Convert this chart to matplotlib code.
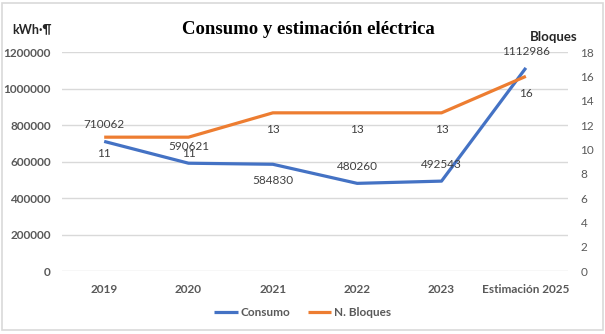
import numpy as np
import matplotlib
matplotlib.use("Agg")
import matplotlib.pyplot as plt
from matplotlib.patches import Rectangle
from matplotlib.ticker import StrMethodFormatter

years = ["2019", "2020", "2021", "2022", "2023", "Estimación 2025"]
consumo = [710062, 590621, 584830, 480260, 492543, 1112986]
bloques = [11, 11, 13, 13, 13, 16]
# label above (+1) or below (-1) the point
consumo_pos = [1, 1, -1, 1, 1, 1]

blue = "#4472C4"
orange = "#ED7D31"
tick_col = "#595959"
lab_col = "#404040"

plt.rcParams['font.family'] = ['Lato', 'DejaVu Sans']

fig = plt.figure(figsize=(6.05, 3.34), dpi=100)
fig.patches.append(Rectangle((0.004, 0.012), 0.992, 0.978, transform=fig.transFigure,
                             fill=False, edgecolor="#D9D9D9", linewidth=1.2))

ax = fig.add_axes([0.1025, 0.1886, 0.8364, 0.6557])
ax2 = ax.twinx()
x = np.arange(len(years))

ax.set_ylim(0, 1200000)
ax.set_yticks(np.arange(0, 1200001, 200000))
ax.yaxis.set_major_formatter(StrMethodFormatter("{x:.0f}"))
ax2.set_ylim(0, 18)
ax2.set_yticks(np.arange(0, 19, 2))
ax.set_xlim(-0.5, len(years) - 0.5)
ax.grid(axis="y", color="#D9D9D9", linewidth=1)
ax.set_axisbelow(True)
for a in (ax, ax2):
    for s in a.spines.values():
        s.set_visible(False)
    a.tick_params(length=0)

ax.set_xticks(x)
ax.set_xticklabels(years, fontsize=8.5, fontweight="bold", color=tick_col)
ax.tick_params(axis="x", pad=9)
ax.tick_params(axis="y", pad=8)
ax2.tick_params(axis="y", pad=9)
for t in ax.get_yticklabels():
    t.set_fontsize(8.5)
    t.set_fontweight("bold")
    t.set_color(tick_col)
for t in ax2.get_yticklabels():
    t.set_fontsize(8.5)
    t.set_color(tick_col)

l1, = ax.plot(x, consumo, color=blue, linewidth=2.3, solid_capstyle="butt", label="Consumo")
l2, = ax2.plot(x, bloques, color=orange, linewidth=2.3, solid_capstyle="butt", label="N. Bloques")

for xi, v, p in zip(x, consumo, consumo_pos):
    ax.annotate(str(v), (xi, v), xytext=(0, 12 * p), textcoords="offset points",
                ha="center", va="center", fontsize=8.5, color=lab_col)
for xi, v in zip(x, bloques):
    ax2.annotate(str(v), (xi, v), xytext=(0, -12), textcoords="offset points",
                 ha="center", va="center", fontsize=8.5, color=lab_col)

fig.text(0.51, 0.913, "Consumo y estimación eléctrica", ha="center", va="center",
         fontsize=13.5, fontweight="bold", family="Liberation Serif")
fig.text(0.02, 0.913, "kWh·¶", ha="left", va="center", fontsize=9, fontweight="bold", color="#262626")
fig.text(0.955, 0.888, "Bloques", ha="right", va="center", fontsize=9.5, fontweight="bold", color="#262626")

fig.legend([l1, l2], ["Consumo", "N. Bloques"], loc="center", bbox_to_anchor=(0.5, 0.065),
           ncol=2, frameon=False, handlelength=2, handletextpad=0.2, columnspacing=1.5,
           prop={"size": 8.5, "weight": "bold"}, labelcolor=tick_col)

fig.savefig("out.png", dpi=100)
